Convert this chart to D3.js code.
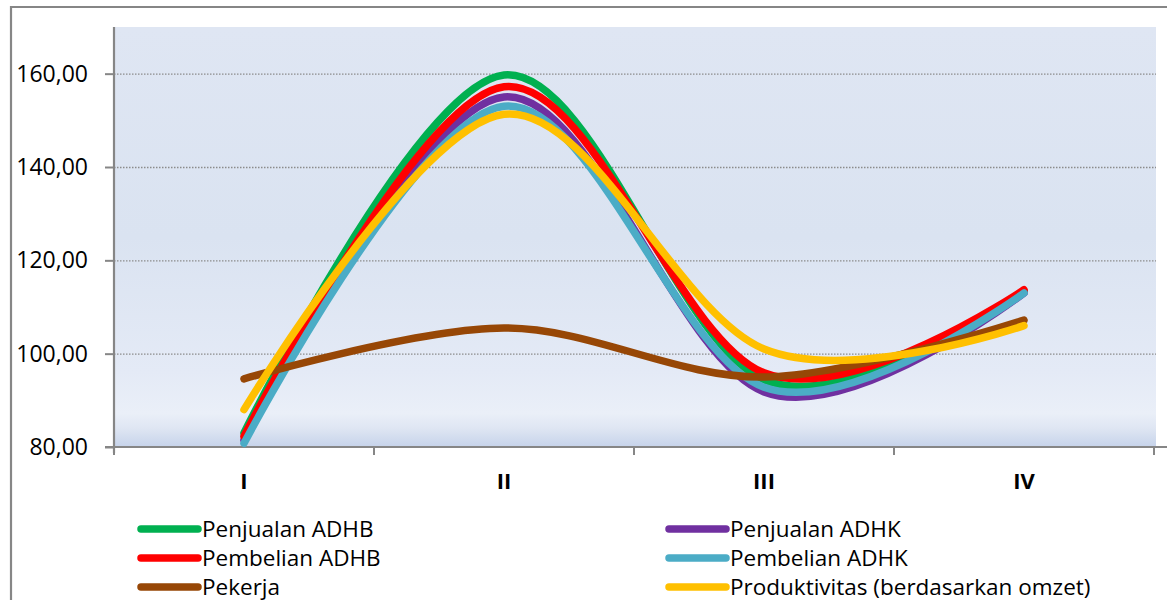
<!DOCTYPE html>
<html>
<head>
<meta charset="utf-8">
<script src="https://cdn.jsdelivr.net/npm/d3@7"></script>
<style>
  html, body { margin: 0; padding: 0; background: #ffffff; }
  svg { display: block; }
  text { font-family: "Open Sans", sans-serif; fill: #000; }
</style>
</head>
<body>
<svg id="chart" width="1167" height="600"></svg>
<script>
// Quarters on the horizontal axis
const categories = ["I", "II", "III", "IV"];

// Index values per quarter for each series
const penjualanADHB = [83.0, 159.7, 94.4, 113.4];
const penjualanADHK = [81.5, 155.0, 91.8, 113.0];
const pembelianADHB = [82.3, 157.2, 95.9, 113.7];
const pembelianADHK = [80.8, 153.0, 92.8, 113.0];
const pekerja       = [94.6, 105.5, 95.0, 107.2];
const produktivitas = [88.0, 151.3, 101.0, 106.0];

// Vertical axis ticks
const yTicks = [80, 100, 120, 140, 160];

const seriesNames = [
  "Penjualan ADHB", "Penjualan ADHK", "Pembelian ADHB",
  "Pembelian ADHK", "Pekerja", "Produktivitas (berdasarkan omzet)"
];
const seriesColors = ["#00b050", "#7030a0", "#ff0000", "#4bacc6", "#974706", "#ffc000"];
const seriesValues = [penjualanADHB, penjualanADHK, pembelianADHB, pembelianADHK, pekerja, produktivitas];

const series = seriesNames.map((name, i) => ({
  name, color: seriesColors[i],
  values: seriesValues[i].map((v, j) => ({ cat: categories[j], v }))
}));

const svg = d3.select("#chart");
const plot = { left: 114, right: 1154, top: 27, bottom: 447 };

const x = d3.scaleBand().domain(categories).range([plot.left, plot.right]);
const y = d3.scaleLinear().domain([80, 170]).range([plot.bottom, plot.top]);
const fmt = v => d3.format(".2f")(v).replace(".", ",");

// Outer chart frame
svg.append("path")
  .attr("d", "M11,600 L11,7 L1167,7")
  .attr("fill", "none").attr("stroke", "#868686").attr("stroke-width", 2.2);

// Plot area background gradient
const defs = svg.append("defs");
const grad = defs.append("linearGradient").attr("id", "plotBg")
  .attr("x1", 0).attr("y1", 0).attr("x2", 0).attr("y2", 1);
[[0, "#dfe6f3"], [0.5, "#dae3f1"], [0.82, "#e4eaf6"], [0.92, "#eaeff8"], [0.955, "#dfe6f3"], [1, "#c6d3ea"]]
  .forEach(([o, c]) => grad.append("stop").attr("offset", o).attr("stop-color", c));

svg.append("rect")
  .attr("x", plot.left).attr("y", plot.top)
  .attr("width", plot.right + 2 - plot.left).attr("height", plot.bottom - plot.top)
  .attr("fill", "url(#plotBg)");

// Dotted horizontal gridlines
svg.append("g").selectAll("line")
  .data(yTicks.filter(t => t > 80))
  .join("line")
  .attr("x1", plot.left).attr("x2", plot.right + 2)
  .attr("y1", d => y(d) + 0.5).attr("y2", d => y(d) + 0.5)
  .attr("stroke", "#8c8c8c").attr("stroke-width", 1.3)
  .attr("stroke-dasharray", "1.5,1.5");

// Y axis
const yAxis = d3.axisLeft(y).tickValues(yTicks).tickFormat(fmt).tickSize(9).tickPadding(17);
const gy = svg.append("g").attr("transform", `translate(${plot.left},0)`).call(yAxis);
gy.select(".domain").attr("stroke", "#868686").attr("stroke-width", 2.2)
  .attr("d", `M0,${plot.top}V${plot.bottom + 6}`);
gy.selectAll(".tick line").attr("stroke", "#868686").attr("stroke-width", 2);
gy.selectAll(".tick text").attr("font-size", 23).attr("fill", "#000")
  .style("font-family", "'Open Sans', sans-serif");

// X axis: tick marks sit on the category boundaries
const gx = svg.append("g").attr("transform", `translate(0,${plot.bottom})`);
gx.append("line").attr("x1", plot.left - 9).attr("x2", 1167)
  .attr("y1", 0).attr("y2", 0).attr("stroke", "#868686").attr("stroke-width", 2.2);
const boundaries = categories.map(c => x(c)).concat([x(categories[categories.length - 1]) + x.bandwidth()]);
gx.selectAll("line.tick").data(boundaries).join("line").attr("class", "tick")
  .attr("x1", d => d).attr("x2", d => d).attr("y1", 0).attr("y2", 8)
  .attr("stroke", "#868686").attr("stroke-width", 2);
gx.selectAll("text").data(categories).join("text")
  .attr("x", d => x(d) + x.bandwidth() / 2).attr("y", 42)
  .attr("text-anchor", "middle").attr("font-size", 22).attr("font-weight", "bold")
  .text(d => d);

// Smoothed series lines
const line = d3.line()
  .x(d => x(d.cat) + x.bandwidth() / 2)
  .y(d => y(d.v))
  .curve(d3.curveCatmullRom.alpha(0));

svg.append("g").selectAll("path")
  .data(series)
  .join("path")
  .attr("d", d => line(d.values))
  .attr("fill", "none")
  .attr("stroke", d => d.color)
  .attr("stroke-width", 7.5)
  .attr("stroke-linecap", "round")
  .attr("stroke-linejoin", "round");

// Legend in two columns
const legendCols = [141, 669];
const legendRows = [529, 558, 587];
const legend = svg.append("g").selectAll("g")
  .data(series)
  .join("g")
  .attr("transform", (d, i) => `translate(${legendCols[i % 2]},${legendRows[Math.floor(i / 2)]})`);
legend.append("line")
  .attr("x1", 0).attr("x2", 57).attr("y1", 0).attr("y2", 0)
  .attr("stroke", d => d.color).attr("stroke-width", 7.5).attr("stroke-linecap", "round");
legend.append("text")
  .attr("x", 61).attr("y", 0).attr("dy", "0.36em")
  .attr("font-size", 22.5)
  .text(d => d.name);
</script>
</body>
</html>
